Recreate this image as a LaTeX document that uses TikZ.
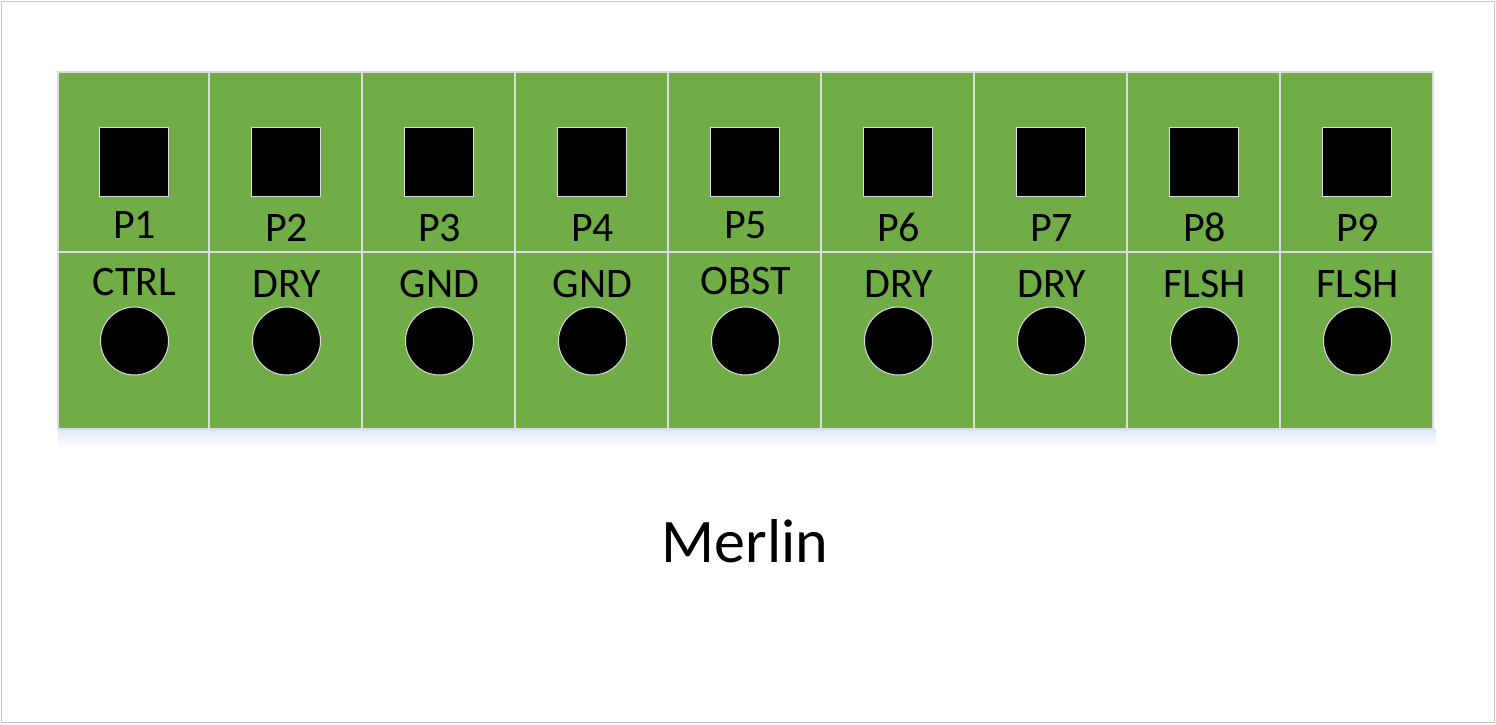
\documentclass[tikz,border=0pt]{standalone}
\usepackage{fontspec}
\setmainfont{Carlito}
\definecolor{pcbgreen}{HTML}{70AD47}
\definecolor{cellline}{HTML}{DCDCDC}
\definecolor{frameline}{HTML}{C8C8C8}
\definecolor{glow}{HTML}{DCE8F5}
\begin{document}
\begin{tikzpicture}[x=0.5pt,y=-0.5pt,
  cellbox/.style={draw=cellline,line width=1.2pt,fill=pcbgreen,inner sep=0pt,minimum height=#1},
  padsq/.style={draw=cellline,line width=0.5pt,fill=black,inner sep=0pt,minimum size=34.5pt},
  padcirc/.style={draw=cellline,line width=0.5pt,fill=black,circle,inner sep=0pt,minimum size=34pt},
  pinlab/.style={font=\fontsize{21pt}{24pt}\selectfont,anchor=base,inner sep=0pt},
  titlelab/.style={font=\fontsize{31pt}{36pt}\selectfont,anchor=base,inner sep=0pt}]
\useasboundingbox (0,0) rectangle (1496,724);
\node[draw=frameline,line width=0.8pt,minimum width=746.5pt,minimum height=360.5pt,inner sep=0pt] (frame) at (748,362) {};
\shade[top color=glow,bottom color=white] (58,429) rectangle (1436,447);
\foreach \i/\c/\w/\pb/\lab/\lb in {1/133.5/75.5/238/CTRL/295, 2/285.5/76.5/241/DRY/297, 3/438.5/76.5/241/GND/297, 4/591.5/76.5/241/GND/297, 5/744.5/76.5/238/OBST/294, 6/897.5/76.5/241/DRY/297, 7/1050.5/76.5/241/DRY/297, 8/1203.5/76.5/241/FLSH/297, 9/1356.5/76.5/241/FLSH/297}{
  \node[cellbox=90pt,minimum width=\w pt] (t\i) at (\c,162) {};
  \node[cellbox=88.5pt,minimum width=\w pt] (b\i) at (\c,340.5) {};
  \node[padsq] (s\i) at (\c+0.5,161.5) {};
  \node[padcirc] (c\i) at (\c+1,341) {};
  \node[pinlab] (p\i) at (\c+1,\pb) {P\i};
  \node[pinlab] (l\i) at (\c+1,\lb) {\lab};
}
\node[titlelab] (title) at (745,562) {Merlin};
\end{tikzpicture}
\end{document}
